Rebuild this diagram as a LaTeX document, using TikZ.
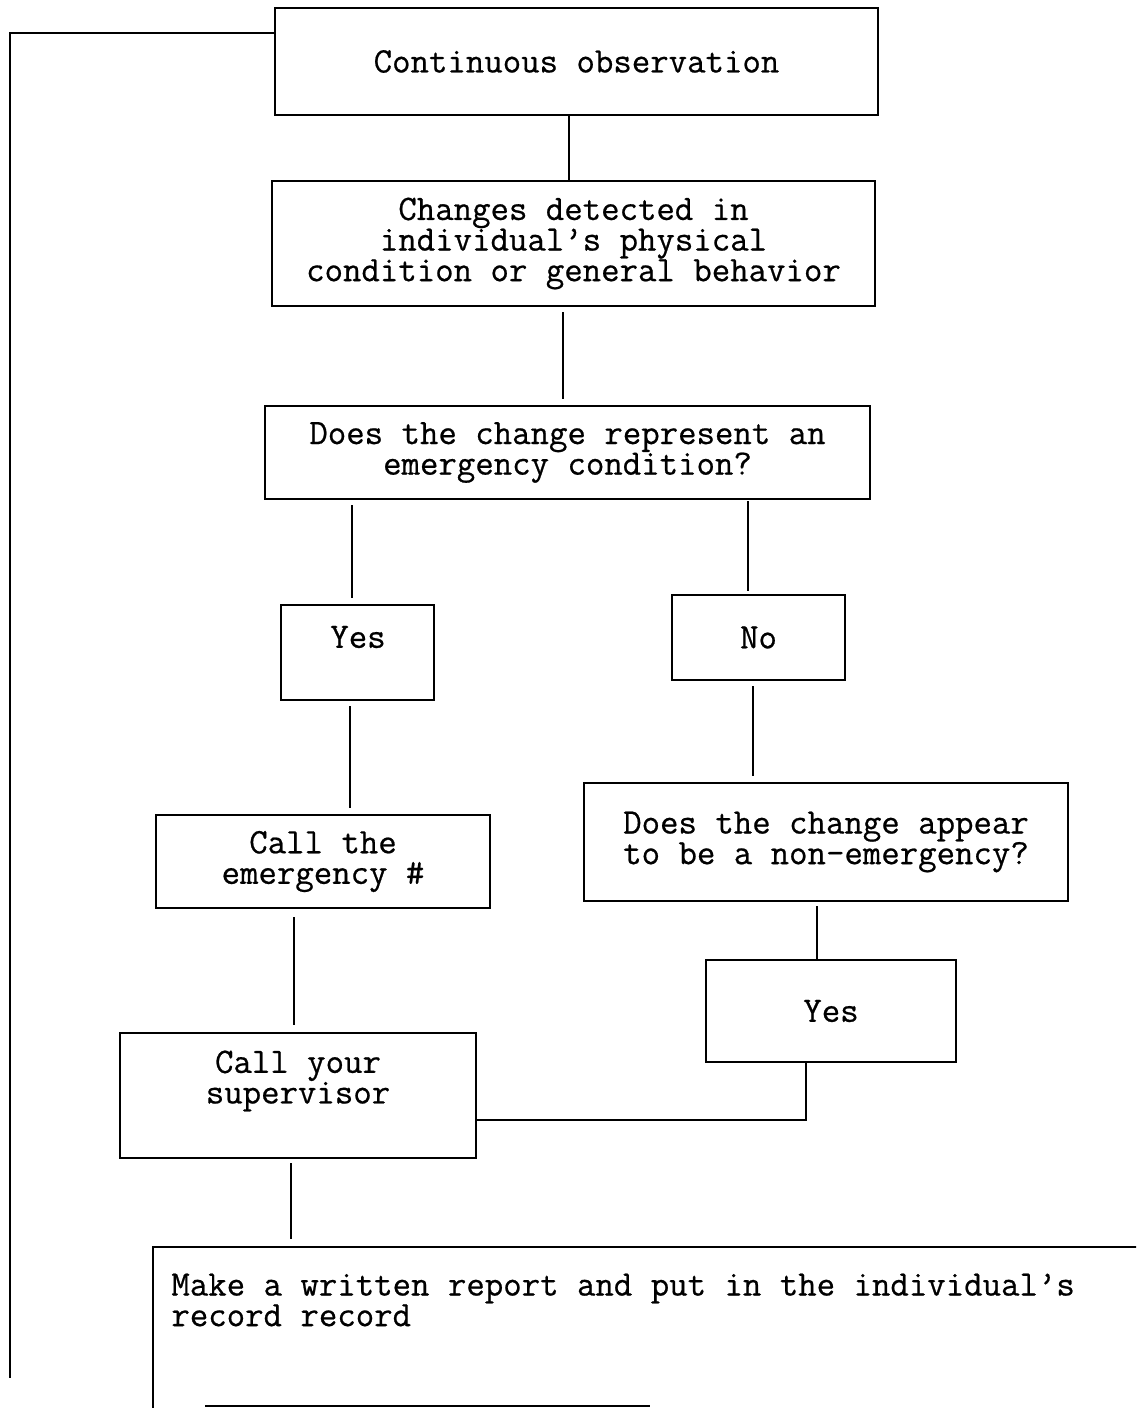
\documentclass[tikz,border=0pt]{standalone}
\usepackage{fontspec}
\newfontfamily\cour{Latin Modern Mono}[FakeBold=0.6]
\usetikzlibrary{calc}
\tikzset{
  box/.style={draw=black, line width=1pt, inner sep=0pt, align=center,
    font=\cour\fontsize{17.9}{15.3}\selectfont},
  conn/.style={draw=black, line width=0.55pt},
  gap/.style={shorten <=2.5pt, shorten >=3pt},
  txt/.style={font=\cour\fontsize{17.9}{15.3}\selectfont, inner sep=0pt}
}
\begin{document}
\begin{tikzpicture}[x=0.5pt,y=-0.5pt]
\clip (0,0) rectangle (1136,1408);
\fill[white] (0,0) rectangle (1136,1408);

\node[box, minimum width=301.5pt, minimum height=53.5pt] (obs) at (576.5,61.5) {Continuous observation};
\node[box, minimum width=301.5pt, minimum height=62.5pt] (chg) at (573.5,243.5)
  {Changes detected in\\individual’s physical\\condition or general behavior};
\node[box, minimum width=302.5pt, minimum height=46.5pt] (emq) at (567.5,452.5)
  {Does the change represent an\\emergency condition?};
\node[box, minimum width=76.5pt, minimum height=47.5pt] (yes1) at (357.5,652.5) {};
\node[txt] (yes1t) at (358,637) {Yes};
\node[box, minimum width=86.5pt, minimum height=42.5pt] (no) at (758.5,637.5) {No};
\node[box, minimum width=167pt, minimum height=46.5pt] (callem) at (323,861.5)
  {Call the\\emergency \#};
\node[box, minimum width=242pt, minimum height=59pt] (appear) at (826,842)
  {Does the change appear\\to be a non-emergency?};
\node[box, minimum width=125pt, minimum height=51pt] (yes2) at (831,1011) {Yes};
\node[box, minimum width=178pt, minimum height=62.5pt] (sup) at (298,1095.5) {};
\node[txt, align=center] (supt) at (298,1081) {Call your\\supervisor};

% bottom report box (cut off by the page edge)
\node[draw=black, line width=1pt, minimum width=540pt, minimum height=120pt, inner sep=0pt]
  (rep) at (153+540,1247+120) {};
\node[txt, align=left, anchor=west] (rept) at (171,1300)
  {Make a written report and put in the individual’s\\record record};
\draw[line width=1pt] (205,1406) -- (650,1406);

% connectors
\draw[conn] (569,0 |- obs.south) -- (569,0 |- chg.north);
\draw[conn, gap] (563,0 |- chg.south) -- (563,0 |- emq.north);
\draw[conn, gap] (352,0 |- emq.south) -- (352,0 |- yes1.north);
\draw[conn, shorten <=0.5pt, shorten >=1.5pt] (748,0 |- emq.south) -- (748,0 |- no.north);
\draw[conn, gap] (350,0 |- yes1.south) -- (350,0 |- callem.north);
\draw[conn, gap] (753,0 |- no.south) -- (753,0 |- appear.north);
\draw[conn, shorten <=2pt] (817,0 |- appear.south) -- (817,0 |- yes2.north);
\draw[conn, shorten <=4pt, shorten >=3.5pt] (294,0 |- callem.south) -- (294,0 |- sup.north);
\draw[conn] (806,0 |- yes2.south) -- (806,1120) -- (sup.east |- 0,1120);
\draw[conn, shorten <=2pt, shorten >=3.5pt] (291,0 |- sup.south) -- (291,0 |- rep.north);
\coordinate (loopend) at (10,1378);
\draw[conn] (obs.west |- 0,33) -- (10,33) -- (loopend);
\end{tikzpicture}
\end{document}
